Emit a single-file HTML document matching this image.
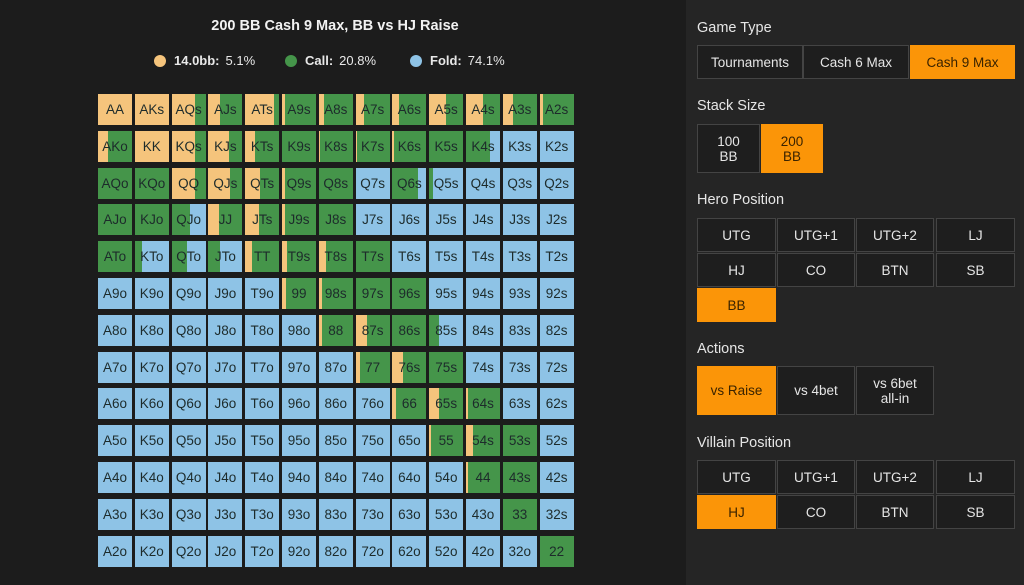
<!DOCTYPE html>
<html><head><meta charset="utf-8"><style>
*{box-sizing:border-box;margin:0;padding:0}
body{width:1024px;height:585px;overflow:hidden;background:#1c1c1c;font-family:"Liberation Sans",sans-serif;position:relative}
#left{position:absolute;left:0;top:0;width:686px;height:585px;background:#1c1c1c}
#right{position:absolute;left:686px;top:0;width:338px;height:585px;background:#252525}
.title{position:absolute;left:0;width:670px;top:18px;text-align:center;color:#f2f2f2;font-weight:bold;font-size:14.5px}
.legend{position:absolute;top:53px;font-size:13px;color:#e8e8e8;display:flex;align-items:center}
.dot{width:12px;height:12px;border-radius:50%;display:inline-block;margin-right:8px}
.legend b{margin-right:6px}
.cell{position:absolute;width:34px;height:31px;overflow:hidden;display:flex;align-items:center;justify-content:center;font-size:13.5px;color:#1d2b2b}
.cell span{position:relative;z-index:1}
.seg{position:absolute;top:0;height:100%}
.lbl{position:absolute;left:11px;color:#e6e6e6;font-size:14.5px}
.btn{position:absolute;background:#1e1e1e;border:1px solid #444;color:#e6e6e6;font-size:13.5px;display:flex;align-items:center;justify-content:center;text-align:center;line-height:15px}
.btn.on{background:#fb9508;border-color:#fb9508;color:#3a2300}
</style></head><body>
<div id="left">
<div class="title">200 BB Cash 9 Max, BB vs HJ Raise</div>
<div class="legend" style="left:154px"><span class="dot" style="background:#f5c47c"></span><b>14.0bb:</b>5.1%</div>
<div class="legend" style="left:285px"><span class="dot" style="background:#45954a"></span><b>Call:</b>20.8%</div>
<div class="legend" style="left:410px"><span class="dot" style="background:#8ec3e6"></span><b>Fold:</b>74.1%</div>
<div id="grid"></div>
</div>
<div id="right">
<div class="lbl" style="top:20px">Game Type</div>
<div class="btn" style="left:11px;top:45px;width:106px;height:34px">Tournaments</div>
<div class="btn" style="left:117px;top:45px;width:106px;height:34px">Cash 6 Max</div>
<div class="btn on" style="left:224px;top:45px;width:105px;height:34px">Cash 9 Max</div>
<div class="lbl" style="top:98px">Stack Size</div>
<div class="btn" style="left:11px;top:124px;width:63px;height:49px">100<br>BB</div>
<div class="btn on" style="left:75px;top:124px;width:62px;height:49px">200<br>BB</div>
<div class="lbl" style="top:192px">Hero Position</div>
<div class="btn" style="left:11px;top:218px;width:79px;height:34px">UTG</div>
<div class="btn" style="left:91px;top:218px;width:78px;height:34px">UTG+1</div>
<div class="btn" style="left:170px;top:218px;width:78px;height:34px">UTG+2</div>
<div class="btn" style="left:250px;top:218px;width:79px;height:34px">LJ</div>
<div class="btn" style="left:11px;top:253px;width:79px;height:34px">HJ</div>
<div class="btn" style="left:91px;top:253px;width:78px;height:34px">CO</div>
<div class="btn" style="left:170px;top:253px;width:78px;height:34px">BTN</div>
<div class="btn" style="left:250px;top:253px;width:79px;height:34px">SB</div>
<div class="btn on" style="left:11px;top:288px;width:79px;height:34px">BB</div>
<div class="lbl" style="top:341px">Actions</div>
<div class="btn on" style="left:11px;top:366px;width:79px;height:49px">vs Raise</div>
<div class="btn" style="left:91px;top:366px;width:78px;height:49px">vs 4bet</div>
<div class="btn" style="left:170px;top:366px;width:78px;height:49px">vs 6bet<br>all-in</div>
<div class="lbl" style="top:435px">Villain Position</div>
<div class="btn" style="left:11px;top:460px;width:79px;height:34px">UTG</div>
<div class="btn" style="left:91px;top:460px;width:78px;height:34px">UTG+1</div>
<div class="btn" style="left:170px;top:460px;width:78px;height:34px">UTG+2</div>
<div class="btn" style="left:250px;top:460px;width:79px;height:34px">LJ</div>
<div class="btn on" style="left:11px;top:495px;width:79px;height:34px">HJ</div>
<div class="btn" style="left:91px;top:495px;width:78px;height:34px">CO</div>
<div class="btn" style="left:170px;top:495px;width:78px;height:34px">BTN</div>
<div class="btn" style="left:250px;top:495px;width:79px;height:34px">SB</div>
</div>
<script>
const ranks=["A","K","Q","J","T","9","8","7","6","5","4","3","2"];
const raiseFreq=[
[1,1,.7,.35,.85,.1,.15,.25,.2,.5,.5,.3,.1],
[.3,1,.7,.6,.3,0,.05,.05,.05,0,0,0,0],
[0,0,.7,.65,.45,.08,0,0,0,0,0,0,0],
[0,0,0,.3,.4,.1,0,0,0,0,0,0,0],
[0,0,0,0,.2,.15,.2,0,0,0,0,0,0],
[0,0,0,0,0,.12,.1,0,0,0,0,0,0],
[0,0,0,0,0,0,.1,.35,0,0,0,0,0],
[0,0,0,0,0,0,0,.12,.3,0,0,0,0],
[0,0,0,0,0,0,0,0,.1,.3,.05,0,0],
[0,0,0,0,0,0,0,0,0,.05,.2,0,0],
[0,0,0,0,0,0,0,0,0,0,.05,0,0],
[0,0,0,0,0,0,0,0,0,0,0,0,0],
[0,0,0,0,0,0,0,0,0,0,0,0,0]];
const callFreq=[
[0,0,.3,.65,.15,.9,.85,.75,.8,.5,.5,.7,.9],
[.7,0,.3,.4,.7,1,.95,.95,.95,1,.7,0,0],
[1,1,.3,.35,.55,.92,1,0,.75,.1,0,0,0],
[1,1,.55,.7,.6,.9,1,0,0,0,0,0,0],
[1,.2,.45,.35,.8,.85,.8,1,0,0,0,0,0],
[0,0,0,0,0,.88,.9,1,1,0,0,0,0],
[0,0,0,0,0,0,.9,.65,1,.3,0,0,0],
[0,0,0,0,0,0,0,.88,.7,1,0,0,0],
[0,0,0,0,0,0,0,0,.9,.7,.95,0,0],
[0,0,0,0,0,0,0,0,0,.95,.8,1,0],
[0,0,0,0,0,0,0,0,0,0,.95,1,0],
[0,0,0,0,0,0,0,0,0,0,0,1,0],
[0,0,0,0,0,0,0,0,0,0,0,0,1]];
const x0=98,y0=94,pitch=36.8,cw=34;
const grid=document.getElementById('grid');
for(let r=0;r<13;r++)for(let c=0;c<13;c++){
  let name=r===c?ranks[r]+ranks[c]:(c>r?ranks[r]+ranks[c]+"s":ranks[c]+ranks[r]+"o");
  const el=document.createElement('div');
  el.className='cell';
  
  
  el.style.left=(x0+c*pitch)+'px';el.style.top=(y0+r*pitch)+'px';
  el.style.background='#8ec3e6';
  const rw=raiseFreq[r][c]*cw,cwid=callFreq[r][c]*cw;
  const s1=document.createElement('div');s1.className='seg';s1.style.left='0';s1.style.width=rw+'px';s1.style.background='#f5c47c';
  const s2=document.createElement('div');s2.className='seg';s2.style.left=rw+'px';s2.style.width=cwid+'px';s2.style.background='#45954a';
  el.appendChild(s1);el.appendChild(s2);
  const sp=document.createElement('span');sp.textContent=name;el.appendChild(sp);
  grid.appendChild(el);
}
</script>
</body></html>
